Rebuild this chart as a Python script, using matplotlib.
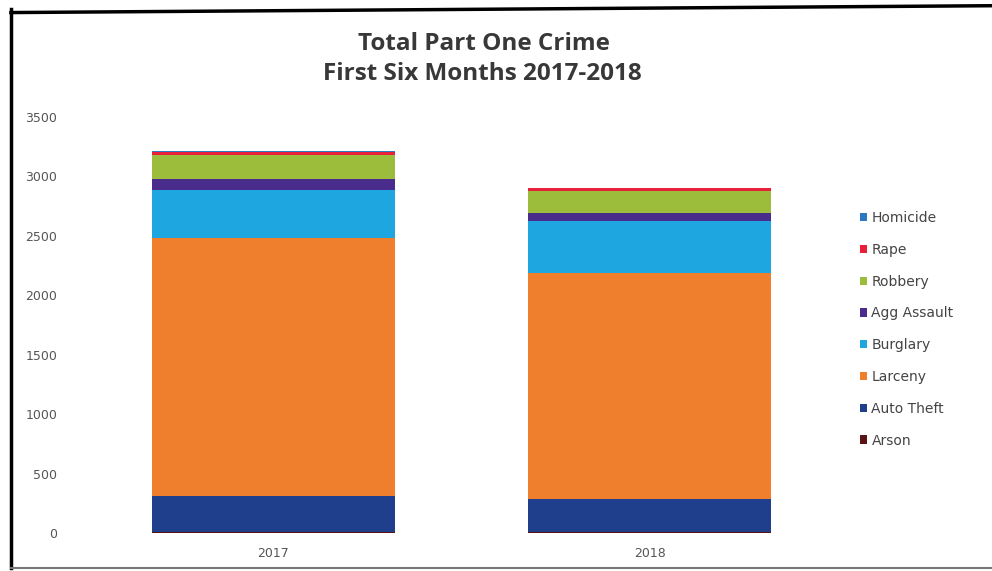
import numpy as np
import matplotlib.pyplot as plt
from matplotlib.patches import Patch
from matplotlib.lines import Line2D

years = ['2017', '2018']
# stacked bottom to top
crimes = ['Arson', 'Auto Theft', 'Larceny', 'Burglary', 'Agg Assault',
          'Robbery', 'Rape', 'Homicide']
arson = [10, 12]
auto_theft = [305, 275]
larceny = [2170, 1905]
burglary = [405, 437]
agg_assault = [92, 62]
robbery = [200, 185]
rape = [25, 25]
homicide = [4, 3]
series = [arson, auto_theft, larceny, burglary, agg_assault,
          robbery, rape, homicide]
colors = ['#5a1414', '#1f3f8c', '#f07f2d', '#1ea6e0', '#4a2c8c',
          '#9cbc3c', '#e8203a', '#2e78c0']

plt.rcParams['font.family'] = 'DejaVu Sans'

fig = plt.figure(figsize=(9.92, 5.71), dpi=100)
ax = fig.add_axes([0.0857, 0.0665, 0.7593, 0.7285])

x = np.arange(len(years))
bottom = np.zeros(len(years))
for vals, c, name in zip(series, colors, crimes):
    ax.bar(x, vals, bottom=bottom, width=0.645, color=c, label=name)
    bottom += np.array(vals)

ax.set_xlim(-0.5, 1.5)
ax.set_ylim(0, 3500)
ax.set_yticks(np.arange(0, 3501, 500))
ax.set_xticks(x)
ax.set_xticklabels(years)
for s in ax.spines.values():
    s.set_visible(False)
ax.tick_params(axis='both', length=0, labelsize=9, colors='#555555')
ax.tick_params(axis='y', pad=20)
ax.tick_params(axis='x', pad=10)

fig.text(0.488, 0.923, 'Total Part One Crime', ha='center', va='center',
         fontsize=17.5, fontweight='bold', color='#383838',
         family='Open Sans')
fig.text(0.486, 0.871, 'First Six Months 2017-2018', ha='center',
         va='center', fontsize=17.5, fontweight='bold', color='#383838',
         family='Open Sans')

handles = [Patch(facecolor=c, label=n) for c, n in zip(colors, crimes)]
leg = fig.legend(handles[::-1], crimes[::-1], loc='upper left',
                 bbox_to_anchor=(0.861, 0.64), frameon=False,
                 fontsize=10, handlelength=0.55, handleheight=0.55,
                 handletextpad=0.3, labelspacing=1.28, borderaxespad=0)
for t in leg.get_texts():
    t.set_color('#444444')

# scanned page border
fig.add_artist(Line2D([0.011, 0.011], [0.005, 0.985], color='black',
                      lw=2.5, transform=fig.transFigure))
fig.add_artist(Line2D([0.011, 1.0], [0.978, 0.99], color='black',
                      lw=2.5, transform=fig.transFigure))
fig.add_artist(Line2D([0.011, 1.0], [0.006, 0.006], color='#777777',
                      lw=1.5, transform=fig.transFigure))

fig.savefig('out.png', dpi=100)
